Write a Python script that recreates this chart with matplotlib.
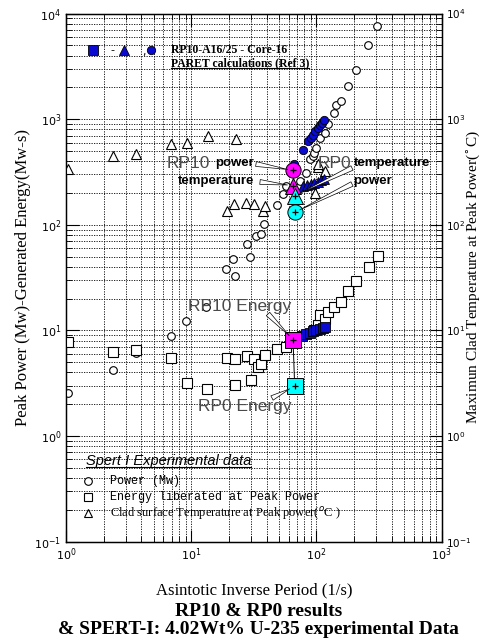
import numpy as np
import matplotlib
matplotlib.use('Agg')
import matplotlib.pyplot as plt
from matplotlib.lines import Line2D

# SPERT-I experimental data (open symbols)
power_x = [1.03, 2.36, 3.63, 6.9, 9.1, 13.1, 19.0, 21.5, 22.3, 27.7, 29.3, 33.0, 36.3, 38.0,
           48.4, 53.8, 57.6, 73.6, 82.0, 88.0, 93.0, 96.0, 100.0, 106.0, 116.0, 123.0, 139.0,
           144.5, 156.0, 177.0, 206.0, 259.0, 307.0]
power_y = [2.53, 4.2, 6.07, 8.77, 12.4, 16.6, 38.2, 47.4, 32.5, 65.7, 49.9, 77.7, 81.7, 102.0,
           154.0, 196.0, 233.0, 260.0, 310.0, 420.0, 447.0, 480.0, 536.0, 667.0, 743.0, 897.0, 1148.0,
           1355.0, 1479.0, 2047.0, 2900.0, 5070.0, 7650.0]

energy_x = [1.04, 2.39, 3.63, 6.9, 9.3, 13.3, 19.4, 22.3, 22.5, 28.0, 30.2, 32.0, 34.0, 36.3,
            38.6, 48.4, 57.6, 95.0, 103.0, 106.0, 116.0, 123.0, 139.0, 156.0, 179.0, 206.0,
            265.0, 311.0]
energy_y = [7.76, 6.24, 6.47, 5.52, 3.21, 2.77, 5.52, 5.4, 3.07, 5.69, 3.37, 5.4, 4.51, 4.85,
            5.81, 6.62, 6.9, 10.2, 11.2, 13.9, 12.9, 15.1, 16.8, 18.5, 23.8, 29.2,
            40.2, 51.0]

temp_x = [1.03, 2.36, 3.63, 6.9, 9.3, 13.6, 22.9, 19.3, 21.8, 27.5, 32.0, 37.4, 38.6,
          97.0, 103.0, 103.0, 116.0]
temp_y = [335.0, 448.0, 466.0, 577.0, 600.0, 692.0, 643.0, 135.0, 159.0, 162.0, 157.0, 135.0, 149.0,
          202.0, 352.0, 373.0, 323.0]

# RP10-A16/25 Core-16 PARET calculations (blue filled)
paret_power_x = [66, 78, 86, 90, 94, 98, 102, 106, 110, 114]
paret_power_y = [380, 505, 620, 668, 715, 772, 818, 872, 925, 990]
paret_temp_x = [78, 84, 90, 96, 102, 108, 114]
paret_temp_y = [232, 239, 243, 251, 255, 263, 270]
paret_energy_x = [76, 82, 88, 94, 100, 106, 112, 118]
paret_energy_y = [8.9, 9.2, 9.5, 9.8, 10.0, 10.3, 10.5, 10.8]

# RP10 (magenta) and RP0 (cyan) results
rp10_x = 65.0
rp10_power, rp10_temp, rp10_energy = 327.0, 235.0, 8.2
rp0_x = 67.0
rp0_power, rp0_temp, rp0_energy = 131.0, 188.0, 2.96

W, H = 482, 642
fig = plt.figure(figsize=(W / 100, H / 100), dpi=100)
L, R, T, B = 66, 441.7, 13.5, 541.7
ax = fig.add_axes([L / W, 1 - B / H, (R - L) / W, (B - T) / H])
ax.set_xscale('log')
ax.set_yscale('log')
ax.set_xlim(1, 1000)
ax.set_ylim(0.1, 10000)

ax.grid(True, which='both', color='black', linestyle=(0, (1.5, 1.5)), linewidth=0.6)
ax.set_axisbelow(True)
for s in ax.spines.values():
    s.set_linewidth(1.0)
ax.tick_params(which='both', direction='in', top=True, right=False, labelsize=8)
ax.tick_params(which='major', length=9)
ax.tick_params(which='minor', length=4)

ax2 = ax.twinx()
ax2.set_yscale('log')
ax2.set_ylim(0.1, 10000)
ax2.tick_params(which='both', direction='in', labelsize=7.5, pad=3)
ax2.tick_params(which='major', length=9)
ax2.tick_params(which='minor', length=4)

serif = 'Liberation Serif'
ax.set_ylabel('Peak Power (Mw)-Generated Energy(Mw-s)', family=serif, fontsize=12, labelpad=2)
# right-hand label placed by hand so it stays inside the canvas
fig.text(473 / W, 1 - 277 / H, 'Maximun Clad Temperature at Peak Power($^{\\circ}$C)',
         family=serif, fontsize=11, rotation=90, ha='center', va='center')
ax.set_xlabel('Asintotic Inverse Period (1/s)', family=serif, fontsize=12, labelpad=14)
fig.text(259 / W, 1 - 612 / H, 'RP10 & RP0 results', family=serif, fontsize=14,
         weight='bold', ha='center', va='center')
fig.text(258 / W, 1 - 630 / H, '& SPERT-I: 4.02Wt% U-235 experimental Data', family=serif,
         fontsize=14, weight='bold', ha='center', va='center')

# experimental open symbols
ax.plot(power_x, power_y, 'o', ms=5.5, mfc='white', mec='black', mew=0.8, ls='none', zorder=3)
ax.plot(energy_x, energy_y, 's', ms=6.5, mfc='white', mec='black', mew=0.8, ls='none', zorder=3)
ax.plot(temp_x, temp_y, '^', ms=6.5, mfc='white', mec='black', mew=0.8, ls='none', zorder=3)

# PARET calculations
blue = '#0a0ad0'
ax.plot(paret_power_x, paret_power_y, 'o', ms=6, mfc=blue, mec='black', mew=0.6, ls='none', zorder=4)
ax.plot(paret_temp_x, paret_temp_y, '^', ms=6.5, mfc=blue, mec='black', mew=0.6, ls='none', zorder=4)
ax.plot(paret_energy_x, paret_energy_y, 's', ms=6.5, mfc=blue, mec='black', mew=0.6, ls='none', zorder=4)

# RP10 / RP0 links and markers
for y10, y0 in [(rp10_power, rp0_power), (rp10_energy, rp0_energy)]:
    ax.plot([rp10_x, rp0_x], [y10, y0], color='black', lw=0.7, zorder=4)
ax.plot(rp10_x, rp10_power, 'o', ms=11, mfc='#ff00ff', mec='black', mew=0.7, zorder=5)
ax.plot(rp10_x, rp10_temp, '^', ms=12, mfc='#ff00ff', mec='black', mew=0.7, zorder=5)
ax.plot(rp10_x, rp10_energy, 's', ms=12, mfc='#ff00ff', mec='black', mew=0.7, zorder=5)
ax.plot(rp0_x, rp0_power, 'o', ms=11, mfc='#00ffff', mec='black', mew=0.7, zorder=5)
ax.plot(rp0_x, rp0_temp, '^', ms=12, mfc='#00ffff', mec='black', mew=0.7, zorder=5)
ax.plot(rp0_x, rp0_energy, 's', ms=12, mfc='#00ffff', mec='black', mew=0.7, zorder=5)
for xx, yy in [(rp10_x, rp10_power), (rp10_x, rp10_temp), (rp10_x, rp10_energy),
               (rp0_x, rp0_power), (rp0_x, rp0_temp), (rp0_x, rp0_energy)]:
    ax.plot(xx, yy, '+', ms=5, color='black', mew=0.9, zorder=6)


def fp(px, py):
    # figure pixel position measured from top-left
    return (px / W, 1 - py / H)


wedge = dict(arrowstyle='wedge,tail_width=0.35', fc='white', ec='black', lw=0.5,
             shrinkA=0, shrinkB=4)


def label(big, small, pos, small_pos, xy, tail):
    if big:
        fig.text(*fp(*pos), big, fontsize=12.5, family='Liberation Sans', color='#4a4a4a',
                 va='center', zorder=7)
    if small:
        fig.text(*fp(*small_pos), small, fontsize=9.5, family='Liberation Sans', weight='bold',
                 va='center', zorder=7)
    ax.annotate('', xy=xy, xycoords='data', xytext=fp(*tail), textcoords='figure fraction',
                arrowprops=wedge, zorder=6)


label('RP10', 'power', (167, 163), (215, 163), (rp10_x, rp10_power), (256, 164))
label(None, 'temperature', None, (178, 181), (rp10_x, rp10_temp), (260, 182))
label('RP0', 'temperature', (318, 163), (354, 163), (rp0_x, rp0_temp), (352, 168))
label(None, 'power', None, (353, 181), (rp0_x, rp0_power), (352, 184))
label('RP10 Energy', None, (188, 307), None, (rp10_x, rp10_energy), (268, 314))
label('RP0 Energy', None, (198, 407), None, (rp0_x, rp0_energy), (272, 398))

# top legend (PARET)
fig.add_artist(Line2D([93 / W], [1 - 50 / H], marker='s', ms=6.5, mfc=blue, mec='black', mew=0.6))
fig.text(*fp(110, 50), '-', fontsize=8, va='center')
fig.add_artist(Line2D([124 / W], [1 - 50 / H], marker='^', ms=6.5, mfc=blue, mec='black', mew=0.6))
fig.text(*fp(142, 52), ',', fontsize=8, va='center')
fig.add_artist(Line2D([151 / W], [1 - 50 / H], marker='o', ms=6, mfc=blue, mec='black', mew=0.6))
t1 = fig.text(*fp(171, 50), 'RP10-A16/25 - Core-16', family=serif, weight='bold', fontsize=8.5,
              va='center')
t2 = fig.text(*fp(171, 63), 'PARET calculations (Ref 3)', family=serif, weight='bold', fontsize=8.5,
              va='center')

# bottom legend (SPERT-I)
t3 = fig.text(*fp(86, 461), 'Spert I Experimental data', family='Liberation Sans', style='italic',
              fontsize=10.5, va='center')
fig.add_artist(Line2D([88 / W], [1 - 481 / H], marker='o', ms=5.5, mfc='white', mec='black', mew=0.8))
fig.add_artist(Line2D([88 / W], [1 - 497 / H], marker='s', ms=5.5, mfc='white', mec='black', mew=0.8))
fig.add_artist(Line2D([88 / W], [1 - 513 / H], marker='^', ms=5.5, mfc='white', mec='black', mew=0.8))
fig.text(*fp(110, 481), 'Power (Mw)', family='Liberation Mono', fontsize=8.5, va='center')
fig.text(*fp(110, 497), 'Energy liberated at Peak Power', family='Liberation Mono', fontsize=8.5,
         va='center')
fig.text(*fp(110, 513), 'Clad surface Temperature at Peak power($^{o}$C )', family=serif,
         fontsize=9, va='center')

fig.canvas.draw()
for t in (t2, t3):
    bb = t.get_window_extent()
    fig.add_artist(Line2D([bb.x0 / W, bb.x1 / W], [(bb.y0 + 1) / H, (bb.y0 + 1) / H],
                          color='black', lw=0.8))

fig.savefig('out.png', dpi=100, facecolor='white')
